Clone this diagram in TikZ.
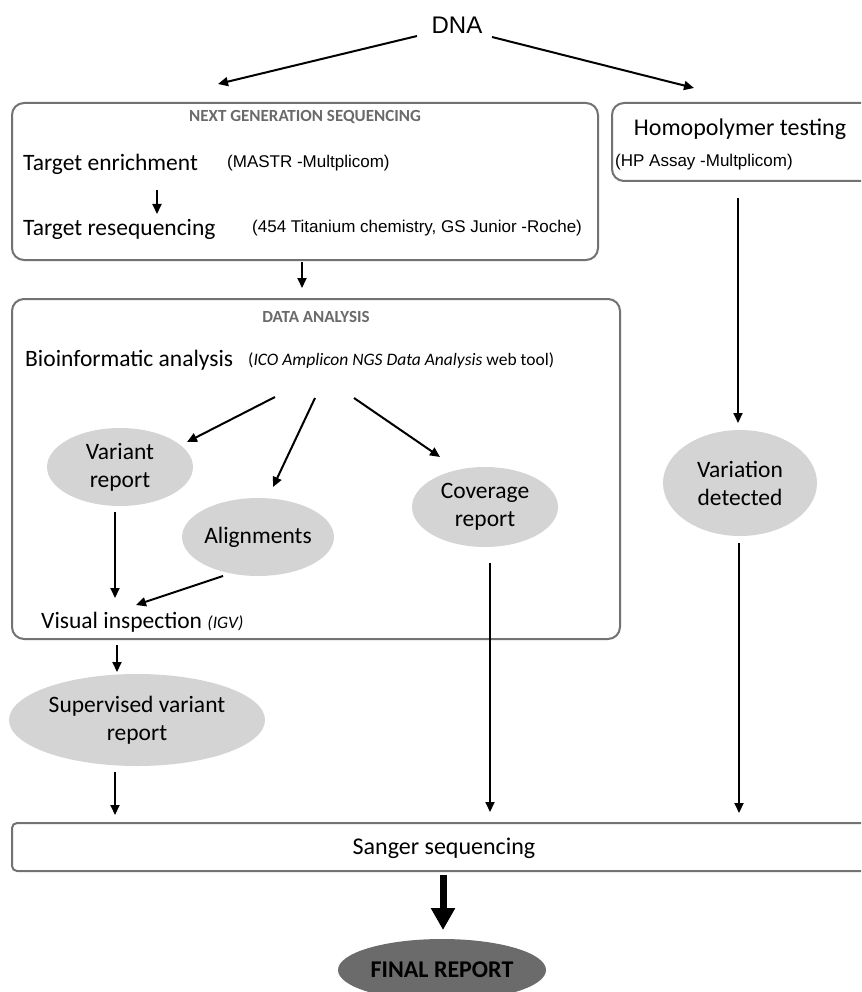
\documentclass[tikz,border=0pt]{standalone}
\usepackage{fontspec}
\setmainfont{Carlito}
\newfontfamily\arialfont{Liberation Sans}
\usetikzlibrary{arrows.meta,shapes.geometric}
\definecolor{panelgray}{HTML}{727272}
\definecolor{titlegray}{HTML}{6A6A6A}
\definecolor{blobgray}{HTML}{D4D4D4}
\definecolor{darkblob}{HTML}{6B6B6B}
\tikzset{
  panel/.style={draw=panelgray, line width=2pt, rounded corners=12pt, inner sep=0pt},
  bar/.style={draw=panelgray, line width=2pt, rounded corners=5pt, inner sep=0pt},
  ttl/.style={font=\fontsize{17}{19}\selectfont\bfseries, text=titlegray, inner sep=0pt},
  lbl/.style={font=\fontsize{23.5}{28}\selectfont, inner sep=0pt, anchor=west},
  note/.style={font=\arialfont\fontsize{17}{20}\selectfont, inner sep=0pt, anchor=west},
  blob/.style={ellipse, fill=blobgray, inner sep=0pt, align=center,
               font=\fontsize{23.5}{28}\selectfont},
  arr/.style={line width=2pt, -{Triangle[length=10pt,width=9pt]}},
  bigarr/.style={line width=7pt, -{Triangle[length=22pt,width=23pt]}}
}
\begin{document}
\begin{tikzpicture}[x=1pt,y=-1pt]
\useasboundingbox (0,0) rectangle (861,992);
\clip (0,0) rectangle (861,992);

% top
\node[font=\arialfont\fontsize{24}{28}\selectfont, inner sep=0pt] (dna) at (457,25) {DNA};

% next generation sequencing panel
\node[panel, minimum width=586pt, minimum height=157pt] (ngs) at (305,181.5) {};
\node[ttl] (ngst) at (305,117) {NEXT GENERATION SEQUENCING};
\node[lbl] (te) at (23,164) {Target enrichment};
\node[note] (mastr) at (227,163) {(MASTR -Multplicom)};
\node[lbl] (tr) at (23,229) {Target resequencing};
\node[note] (roche) at (252,228) {(454 Titanium chemistry, GS Junior -Roche)};

% homopolymer panel
\node[panel, minimum width=263pt, minimum height=78pt] (hp) at (743.5,142) {};
\node[font=\fontsize{24}{28}\selectfont, inner sep=0pt] (hpt) at (740,129) {Homopolymer testing};
\node[note] (hpa) at (615,162) {(HP Assay -Multplicom)};

% data analysis panel
\node[panel, minimum width=608pt, minimum height=340pt] (da) at (316,469) {};
\node[ttl] (dat) at (316,317) {DATA ANALYSIS};
\node[lbl] (bio) at (25,360) {Bioinformatic analysis};
\node[font=\fontsize{17.5}{20}\selectfont, inner sep=0pt, anchor=west] (ico) at (248,361)
  {(\textit{ICO Amplicon NGS Data Analysis} web tool)};
\node[blob, minimum width=146pt, minimum height=78pt] (variant) at (120,467) {Variant\\report};
\node[blob, minimum width=148pt, minimum height=78pt] (align) at (258,537) {Alignments};
\node[blob, minimum width=146pt, minimum height=80pt] (cover) at (485,507) {Coverage\\report};
\node[lbl] (visual) at (41,622) {Visual inspection \textit{\fontsize{17.5}{20}\selectfont(IGV)}};

% right branch
\node[blob, minimum width=154pt, minimum height=106pt] (variation) at (740,483) {Variation\\detected};

% bottom
\node[blob, minimum width=256pt, minimum height=92pt] (superv) at (137,720) {Supervised variant\\report};
\node[bar, minimum width=870pt, minimum height=48pt] (sanger) at (447,847) {};
\node[font=\fontsize{24}{28}\selectfont, inner sep=0pt] (sangt) at (444,848) {Sanger sequencing};
\node[ellipse, fill=darkblob, inner sep=0pt, minimum width=208pt, minimum height=62pt,
      font=\fontsize{24}{28}\selectfont\bfseries] (final) at (442,970) {FINAL REPORT};

% connector end points
\coordinate (d1) at (417,36);   \coordinate (d1e) at (218,84);
\coordinate (d2) at (492,37);   \coordinate (d2e) at (694,88);
\coordinate (t1) at (157,190);  \coordinate (t1e) at (157,214);
\coordinate (n1) at (302,262);  \coordinate (n1e) at (302,288);
\coordinate (h1) at (738,198);  \coordinate (h1e) at (738,423);
\coordinate (b1) at (275,397);  \coordinate (b1e) at (187,442);
\coordinate (b2) at (315,398);  \coordinate (b2e) at (273,487);
\coordinate (b3) at (354,398);  \coordinate (b3e) at (440,457);
\coordinate (v1) at (115,512);  \coordinate (v1e) at (115,598);
\coordinate (a1) at (223,576);  \coordinate (a1e) at (136,605);
\coordinate (c1) at (490,563);  \coordinate (c1e) at (490,812);
\coordinate (w1) at (739,543);  \coordinate (w1e) at (739,813);
\coordinate (s1) at (117,645);  \coordinate (s1e) at (117,672);
\coordinate (s2) at (115,772);  \coordinate (s2e) at (115,815);
\coordinate (f1) at (443,875);  \coordinate (f1e) at (443,930);

\draw[arr] (d1) -- (d1e);
\draw[arr] (d2) -- (d2e);
\draw[arr] (t1) -- (t1e);
\draw[arr] (n1) -- (n1e);
\draw[arr] (h1) -- (h1e);
\draw[arr] (b1) -- (b1e);
\draw[arr] (b2) -- (b2e);
\draw[arr] (b3) -- (b3e);
\draw[arr] (v1) -- (v1e);
\draw[arr] (a1) -- (a1e);
\draw[arr] (c1) -- (c1e);
\draw[arr] (w1) -- (w1e);
\draw[arr] (s1) -- (s1e);
\draw[arr] (s2) -- (s2e);
\draw[bigarr] (f1) -- (f1e);
\end{tikzpicture}
\end{document}
